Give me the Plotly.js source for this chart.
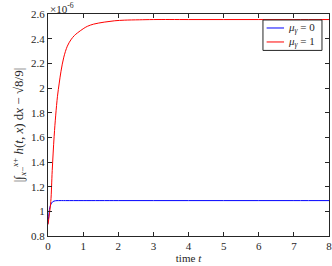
<!DOCTYPE html>
<html><head><meta charset="utf-8">
<script src="https://cdn.plot.ly/plotly-3.0.1.min.js"></script>
<style>body{margin:0;padding:0;background:#fff}#g{width:332px;height:266px}</style>
</head><body><div id="g"></div>
<script>
// values in units of 1e-6
var tRed = [0, 0.04, 0.08, 0.12, 0.175, 0.22, 0.27, 0.32, 0.37, 0.45, 0.55, 0.65, 0.75, 0.84, 1.0, 1.12, 1.3, 1.6, 1.9, 2.17, 2.6, 3.0, 4.0, 5.0, 6.0, 7.0, 8.0];
var vRed = [0.893, 0.98, 1.08, 1.33, 1.609, 1.78, 1.933, 2.04, 2.136, 2.25, 2.339, 2.39, 2.425, 2.447, 2.48, 2.50, 2.518, 2.534, 2.545, 2.55, 2.553, 2.555, 2.555, 2.555, 2.555, 2.555, 2.555];
var tBlue = [0, 0.02, 0.04, 0.06, 0.08, 0.1, 0.13, 0.17, 0.22, 0.3, 0.5, 1, 2, 3, 4, 5, 6, 7, 8];
var vBlue = [0.9, 0.96, 1.014, 1.04, 1.055, 1.067, 1.077, 1.083, 1.086, 1.087, 1.087, 1.087, 1.087, 1.087, 1.087, 1.087, 1.087, 1.087, 1.087];
var xTicks = [0,1,2,3,4,5,6,7,8];
var yTicks = [0.8,1,1.2,1.4,1.6,1.8,2,2.2,2.4,2.6];
var yTickText = ["0.8","1","1.2","1.4","1.6","1.8","2","2.2","2.4","2.6"];
var names = ["<i>μ</i><sub><i>γ</i></sub> = 0", "<i>μ</i><sub><i>γ</i></sub> = 1"];
var colors = ["#0000ff", "#ff0000"];

var fam = "Liberation Serif";
var font = {family: fam, size: 11, color: "#262626"};
var axisCommon = {
  showline: true, mirror: "ticks", linecolor: "#262626", linewidth: 1,
  ticks: "inside", ticklen: 4, tickcolor: "#262626", showgrid: false, zeroline: false,
  tickfont: font, ticklabeloverflow: "allow"
};
var data = [
  {x: tBlue, y: vBlue, type: "scatter", mode: "lines", name: names[0], line: {color: colors[0], width: 1, shape: "spline"}},
  {x: tRed, y: vRed, type: "scatter", mode: "lines", name: names[1], line: {color: colors[1], width: 1, shape: "spline"}}
];
// custom compact legend (box, swatches, labels)
var legRows = [0.937, 0.874];
var shapes = [{type: "rect", xref: "paper", yref: "paper", x0: 0.765, x1: 0.975, y0: 0.836, y1: 0.973,
  line: {color: "#262626", width: 1}, fillcolor: "#fff", layer: "above"}];
var annotations = [{xref: "paper", yref: "paper", x: 0, y: 1, xanchor: "left", yanchor: "bottom", showarrow: false,
    text: "×10<sup>-6</sup>", font: {family: fam, size: 11, color: "#262626"}, yshift: -3}];
for (var i = 0; i < 2; i++) {
  shapes.push({type: "line", xref: "paper", yref: "paper", x0: 0.778, x1: 0.840, y0: legRows[i], y1: legRows[i],
    line: {color: colors[i], width: 1}, layer: "above"});
  annotations.push({xref: "paper", yref: "paper", x: 0.848, y: legRows[i], xanchor: "left", yanchor: "middle",
    showarrow: false, text: names[i], font: {family: fam, size: 11, color: "#262626"}});
}
var layout = {
  width: 332, height: 266,
  margin: {l: 48, r: 3, t: 14, b: 30},
  paper_bgcolor: "#fff", plot_bgcolor: "#fff",
  font: font,
  showlegend: false,
  shapes: shapes,
  annotations: annotations,
  xaxis: Object.assign({}, axisCommon, {range: [0, 8], tickvals: xTicks, ticktext: xTicks.map(String),
    title: {text: "time <i>t</i>", font: font, standoff: 2}}),
  yaxis: Object.assign({}, axisCommon, {range: [0.8, 2.6], tickvals: yTicks, ticktext: yTickText,
    title: {text: "|∫<sub><i>x</i>−</sub><sup><i>x</i>+</sup> <i>h</i>(<i>t</i>, <i>x</i>) d<i>x</i> − √8/9|", font: {family: fam, size: 13, color: "#262626"}, standoff: 4}})
};
Plotly.newPlot("g", data, layout, {staticPlot: true, displayModeBar: false});
</script></body></html>
